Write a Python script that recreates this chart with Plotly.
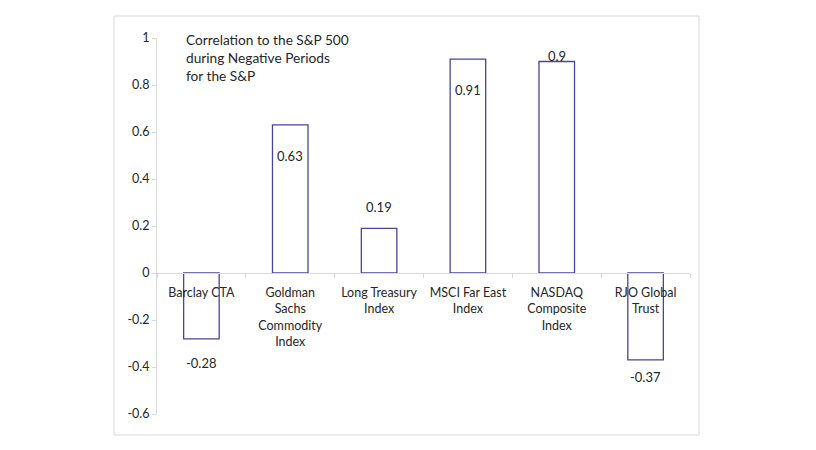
import plotly.graph_objects as go

categories = ["Barclay CTA", "Goldman<br>Sachs<br>Commodity<br>Index", "Long Treasury<br>Index",
              "MSCI Far East<br>Index", "NASDAQ<br>Composite<br>Index", "RJO Global<br>Trust"]
values = [-0.28, 0.63, 0.19, 0.91, 0.90, -0.37]
value_labels = ["-0.28", "0.63", "0.19", "0.91", "0.9", "-0.37"]
# label offset (px, downward) from the bar end, as placed in the original
label_offsets = [24, 31, -21, 31, -6, 17]

y_ticks = [-0.6, -0.4, -0.2, 0, 0.2, 0.4, 0.6, 0.8, 1]
y_ticktext = ["-0.6", "-0.4", "-0.2", "0", "0.2", "0.4", "0.6", "0.8", "1"]

title_text = "Correlation to the S&P 500<br>during Negative Periods<br>for the S&P"

FONT = "Lato"
TXT = "#262626"
AX = "#d9d9d9"
BAR_LINE = "#46469a"

fig = go.Figure()
fig.add_trace(go.Bar(
    x=categories, y=values, width=0.4,
    marker=dict(color="white", line=dict(color=BAR_LINE, width=1.3)),
    hoverinfo="skip",
))

for c, v, t, off in zip(categories, values, value_labels, label_offsets):
    fig.add_annotation(x=c, y=v, text=t, showarrow=False, yshift=-off,
                       xanchor="center", yanchor="middle",
                       font=dict(family=FONT, size=13, color=TXT))

fig.add_annotation(xref="paper", yref="paper", x=0.0500, y=1.025, text=title_text,
                   showarrow=False, xanchor="left", yanchor="top", align="left",
                   font=dict(family=FONT, size=13.7, color=TXT))

# outer chart border
fig.add_shape(type="rect", xref="paper", yref="paper",
              x0=-0.0807, x1=1.0169, y0=-0.0559, y1=1.0585,
              line=dict(color=AX, width=1), fillcolor="rgba(0,0,0,0)", layer="below")

fig.update_layout(
    width=816, height=450,
    margin=dict(l=149, r=134, t=30, b=44),
    paper_bgcolor="white", plot_bgcolor="white",
    showlegend=False,
    font=dict(family=FONT, size=12, color=TXT),
    yaxis=dict(range=[-0.6, 1], tickvals=y_ticks, ticktext=y_ticktext,
               showgrid=False, zeroline=False, showline=True, linecolor=AX, linewidth=1,
               ticks="outside", ticklen=4, tickcolor=AX,
               tickfont=dict(family=FONT, size=12.5, color=TXT)),
    xaxis=dict(type="category", anchor="free", position=0.375,
               showgrid=False, zeroline=False, showline=True, linecolor=AX, linewidth=1,
               ticks="outside", ticklen=4, tickcolor=AX, tickson="boundaries",
               tickfont=dict(family=FONT, size=12.5, color=TXT), tickangle=0,
               ticklabelstandoff=8),
)

fig.write_html("out.html")
